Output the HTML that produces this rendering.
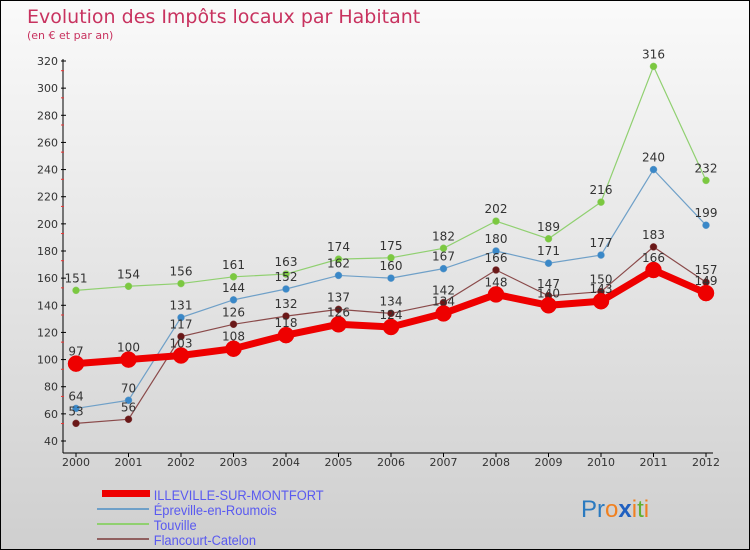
<!DOCTYPE html>
<html><head><meta charset="utf-8"><style>
body{margin:0}
#c{position:relative;width:750px;height:550px;box-sizing:border-box;border:1px solid #000;background:linear-gradient(#fafafa,#cfcfcf);font-family:"DejaVu Sans","Liberation Sans",sans-serif;overflow:hidden}
</style></head><body>
<div id="c">
<svg id="s" width="750" height="550" style="position:absolute;left:0;top:0">
<text x="26" y="22" font-size="19" fill="#c8325f">Evolution des Impôts locaux par Habitant</text>
<text x="26" y="38" font-size="11" fill="#c8325f">(en € et par an)</text>
<g id="axes"></g><g id="series"></g>
<g>
<rect x="101" y="489" width="48" height="7" fill="#e00"/>
<line x1="96" y1="508" x2="148" y2="508" stroke="#6fa0c8" stroke-width="2"/>
<line x1="96" y1="523" x2="148" y2="523" stroke="#90d070" stroke-width="2"/>
<line x1="96" y1="538" x2="148" y2="538" stroke="#906060" stroke-width="2"/>
<g font-size="14" fill="#5a5af0" font-family="Liberation Sans Narrow, Liberation Sans, sans-serif" transform="scale(0.92,1)">
<text x="166" y="499">ILLEVILLE-SUR-MONTFORT</text>
<text x="166" y="514">Épreville-en-Roumois</text>
<text x="166" y="529">Touville</text>
<text x="166" y="544">Flancourt-Catelon</text>
</g></g>
<g font-size="24" font-family="Liberation Sans, sans-serif">
<text x="580" y="516"><tspan fill="#2a7ac0">Pr</tspan><tspan fill="#f08020">o</tspan><tspan fill="#2060c0" font-weight="bold">x</tspan><tspan fill="#f08020">i</tspan><tspan fill="#60b030">t</tspan><tspan fill="#f08020">i</tspan></text></g>
</svg></div>
<script>
const years=[2000,2001,2002,2003,2004,2005,2006,2007,2008,2009,2010,2011,2012];
const yTicks=[40,60,80,100,120,140,160,180,200,220,240,260,280,300,320];
const illeville=[97,100,103,108,118,126,124,134,148,140,143,166,149];
const epreville=[64,70,131,144,152,162,160,167,180,171,177,240,199];
const touville=[151,154,156,161,163,174,175,182,202,189,216,316,232];
const flancourt=[53,56,117,126,132,137,134,142,166,147,150,183,157];
const NS="http://www.w3.org/2000/svg";
const X=i=>75+i*52.5, Y=v=>440-(v-40)*380/280;
function mk(t,a,p){const e=document.createElementNS(NS,t);for(const k in a)e.setAttribute(k,a[k]);p.appendChild(e);return e;}
const ax=document.getElementById('axes');
let l=mk('line',{x1:62,y1:58,x2:62,y2:452,stroke:'#000'},ax);


l=mk('line',{x1:62,y1:452,x2:712,y2:452,stroke:'#000'},ax);


yTicks.forEach(v=>{const y=Y(v);mk('line',{x1:60,y1:y,x2:65,y2:y,stroke:'#000'},ax);
mk('line',{x1:60,y1:y+9.7,x2:63,y2:y+9.7,stroke:v>40?'#e33':'none'},ax);
const t=mk('text',{x:57,y:y+4,'font-size':11,fill:'#333','text-anchor':'end'},ax);t.textContent=v;

});
years.forEach((yr,i)=>{mk('line',{x1:X(i),y1:452,x2:X(i),y2:456,stroke:'#000'},ax);
const t=mk('text',{x:X(i),y:465,'font-size':11,fill:'#333','text-anchor':'middle'},ax);t.textContent=yr;

});
const sg=document.getElementById('series');
function draw(vals,color,w,r,name,dot){
const g=mk('g',{},sg);


const p=mk('polyline',{points:vals.map((v,i)=>X(i)+','+Y(v)).join(' '),fill:'none',stroke:color,'stroke-width':w},g);


vals.forEach((v,i)=>{const c=mk('circle',{cx:X(i),cy:Y(v),r:r,fill:dot,stroke:color,'stroke-width':0.5},g);


const t=mk('text',{x:X(i),y:Y(v)-8,'font-size':12,fill:'#333','text-anchor':'middle'},g);t.textContent=v;

});}
draw(touville,'#90d070',1.2,3.5,'touville','#7cc840');
draw(epreville,'#6fa0c8',1.2,3.5,'epreville','#3a88c8');
draw(flancourt,'#8a4a4a',1.2,3.5,'flancourt','#6a1818');
draw(illeville,'#ee0000',7,8,'illeville','#ee0000');
</script></body></html>
